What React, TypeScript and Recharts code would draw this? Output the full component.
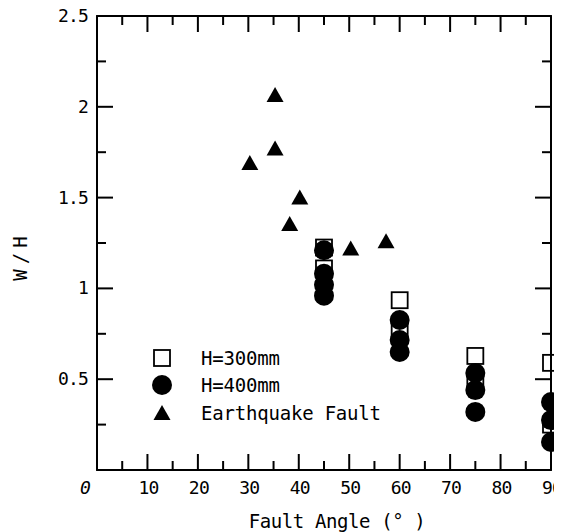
import { ScatterChart, Scatter, XAxis, YAxis, Legend } from 'recharts'

// fault angle (deg) vs W/H
const h300Angle = [45, 45, 60, 60, 75, 75, 90, 90]
const h300Wh = [1.225, 1.11, 0.935, 0.77, 0.628, 0.48, 0.59, 0.25]

const h400Angle = [45, 45, 45, 45, 60, 60, 60, 75, 75, 75, 90, 90, 90]
const h400Wh = [1.21, 1.08, 1.02, 0.96, 0.826, 0.716, 0.65, 0.534, 0.44, 0.32, 0.374, 0.275, 0.154]

const quakeAngle = [30.3, 35.3, 35.3, 40.2, 38.2, 50.3, 57.3]
const quakeWh = [1.69, 2.065, 1.77, 1.5, 1.355, 1.22, 1.26]

const xTicks = [0, 5, 10, 15, 20, 25, 30, 35, 40, 45, 50, 55, 60, 65, 70, 75, 80, 85, 90]
const yTicks = [0, 0.25, 0.5, 0.75, 1, 1.25, 1.5, 1.75, 2, 2.25, 2.5]
const yLabels: Record<string, string> = { '0.5': '0.5', '1': '1', '1.5': '1.5', '2': '2', '2.5': '2.5' }

const h300 = h300Angle.map((a, i) => ({ angle: a, wh: h300Wh[i] }))
const h400 = h400Angle.map((a, i) => ({ angle: a, wh: h400Wh[i] }))
const quake = quakeAngle.map((a, i) => ({ angle: a, wh: quakeWh[i] }))

const FONT = '"DejaVu Sans Mono", monospace'
const MAJOR = 16
const MINOR = 9

const isMajorX = (v: number) => v % 10 === 0
const isMajorY = (v: number) => Math.abs(v * 2 - Math.round(v * 2)) < 1e-6

const BottomTick = (props: any) => {
  const { x, y, payload } = props
  const v = payload.value
  const major = isMajorX(v)
  return (
    <g>
      <circle cx={x} cy={y} r={1} fill="#000" />
      <line x1={x} y1={y} x2={x} y2={y - (major ? MAJOR : MINOR)} stroke="#000" strokeWidth={2} />
      {major && (
        <text x={x + (v === 0 ? -12 : 1)} y={y + 24} textAnchor="middle" fontFamily={FONT} fontSize={18}
          letterSpacing={-0.8} fontStyle={v === 0 ? 'italic' : 'normal'} fill="#000">{v}</text>
      )}
    </g>
  )
}

const TopTick = (props: any) => {
  const { x, y, payload } = props
  const major = isMajorX(payload.value)
  return (
    <g>
      <circle cx={x} cy={y} r={1} fill="#000" />
      <line x1={x} y1={y} x2={x} y2={y + (major ? MAJOR : MINOR)} stroke="#000" strokeWidth={2} />
    </g>
  )
}

const LeftTick = (props: any) => {
  const { x, y, payload } = props
  const v = payload.value
  const major = isMajorY(v)
  const lab = yLabels[String(v)]
  return (
    <g>
      <circle cx={x} cy={y} r={1} fill="#000" />
      <line x1={x} y1={y} x2={x + (major ? MAJOR : MINOR)} y2={y} stroke="#000" strokeWidth={2} />
      {major && lab && (
        <text x={x - 9} y={y + 6} textAnchor="end" fontFamily={FONT} fontSize={18} letterSpacing={-0.8} fill="#000">{lab}</text>
      )}
    </g>
  )
}

const RightTick = (props: any) => {
  const { x, y, payload } = props
  const major = isMajorY(payload.value)
  return (
    <g>
      <circle cx={x} cy={y} r={1} fill="#000" />
      <line x1={x} y1={y} x2={x - (major ? MAJOR : MINOR)} y2={y} stroke="#000" strokeWidth={2} />
    </g>
  )
}

const SquareShape = (props: any) => (
  <rect x={props.cx - 8} y={props.cy - 8} width={16} height={16} fill="none" stroke="#000" strokeWidth={1.8} />
)
const CircleShape = (props: any) => <circle cx={props.cx} cy={props.cy} r={10} fill="#000" />
const TriangleShape = (props: any) => (
  <polygon points={`${props.cx},${props.cy - 8} ${props.cx - 8.5},${props.cy + 7} ${props.cx + 8.5},${props.cy + 7}`} fill="#000" />
)
const NoShape = () => <g />

const legendItems = [
  { name: 'H=300mm', icon: <rect x={3} y={3} width={16} height={16} fill="none" stroke="#000" strokeWidth={1.8} /> },
  { name: 'H=400mm', icon: <circle cx={11} cy={11} r={10} fill="#000" /> },
  { name: 'Earthquake Fault', icon: <polygon points="11,3 2.5,18 19.5,18" fill="#000" /> },
]

const LegendBox = () => (
  <div style={{ fontFamily: FONT, fontSize: 19, letterSpacing: -0.2, color: '#000' }}>
    {legendItems.map(it => (
      <div key={it.name} style={{ display: 'flex', alignItems: 'center', height: 27.5 }}>
        <svg width={22} height={22} style={{ display: 'block' }}>{it.icon}</svg>
        <span style={{ marginLeft: 28, whiteSpace: 'nowrap' }}>{it.name}</span>
      </div>
    ))}
  </div>
)

export default function App() {
  return (
    <div style={{ width: 554, height: 524, background: '#fff' }}>
      <ScatterChart width={554} height={524} margin={{ top: 7, right: 10, bottom: 0, left: 0 }}>
        <XAxis
          type="number" dataKey="angle" domain={[0, 90]} ticks={xTicks} interval={0}
          height={62} tickSize={0} tickMargin={0} tickLine={false}
          axisLine={{ stroke: '#000', strokeWidth: 2 }} tick={<BottomTick />}
          label={{ value: 'Fault Angle (° )', position: 'insideBottom', offset: 4, dx: 13,
            style: { fontFamily: FONT, fontSize: 19, letterSpacing: -0.4, fill: '#000' } }}
        />
        <XAxis
          xAxisId="top" orientation="top" type="number" dataKey="angle" domain={[0, 90]} ticks={xTicks} interval={0}
          height={1} tickSize={0} tickMargin={0} tickLine={false}
          axisLine={{ stroke: '#000', strokeWidth: 2 }} tick={<TopTick />}
        />
        <YAxis
          type="number" dataKey="wh" domain={[0, 2.5]} ticks={yTicks} interval={0}
          width={89} tickSize={0} tickMargin={0} tickLine={false}
          axisLine={{ stroke: '#000', strokeWidth: 2 }} tick={<LeftTick />}
          label={() => (
            <text x={12} y={248} transform="rotate(-90 12 248)" textAnchor="middle" dominantBaseline="central"
              fontFamily={FONT} fontSize={19} letterSpacing={5} fill="#000">W/H</text>
          )}
        />
        <YAxis
          yAxisId="right" orientation="right" type="number" dataKey="wh" domain={[0, 2.5]} ticks={yTicks} interval={0}
          width={1} tickSize={0} tickMargin={0} tickLine={false}
          axisLine={{ stroke: '#000', strokeWidth: 2 }} tick={<RightTick />}
        />
        <Legend
          content={<LegendBox />} layout="horizontal" verticalAlign="middle" align="center"
          wrapperStyle={{ left: 143, top: 336, width: 260, height: 83 }}
        />
        {/* invisible series so the top / right frame axes get drawn */}
        <Scatter data={h300} xAxisId="top" yAxisId="right" shape={<NoShape />} legendType="none" isAnimationActive={false} />
        <Scatter name="H=300mm" data={h300} shape={<SquareShape />} isAnimationActive={false} />
        <Scatter name="H=400mm" data={h400} shape={<CircleShape />} isAnimationActive={false} />
        <Scatter name="Earthquake Fault" data={quake} shape={<TriangleShape />} isAnimationActive={false} />
      </ScatterChart>
    </div>
  )
}
